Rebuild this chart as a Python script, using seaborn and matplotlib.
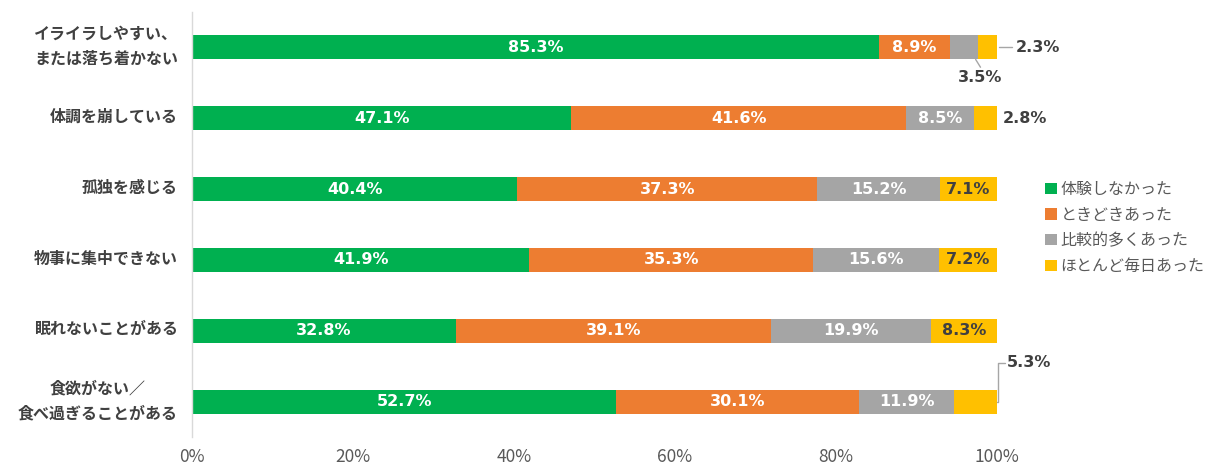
import matplotlib
matplotlib.use("Agg")
import matplotlib.pyplot as plt
import matplotlib.transforms as mtransforms
import seaborn as sns
import pandas as pd
import numpy as np
from matplotlib.patches import Patch

categories = ["イライラしやすい、\nまたは落ち着かない", "体調を崩している", "孤独を感じる",
              "物事に集中できない", "眠れないことがある", "食欲がない／\n食べ過ぎることがある"]
series_names = ["体験しなかった", "ときどきあった", "比較的多くあった", "ほとんど毎日あった"]
never = [85.3, 47.1, 40.4, 41.9, 32.8, 52.7]
sometimes = [8.9, 41.6, 37.3, 35.3, 39.1, 30.1]
often = [3.5, 8.5, 15.2, 15.6, 19.9, 11.9]
daily = [2.3, 2.8, 7.1, 7.2, 8.3, 5.3]
xticks = [0, 20, 40, 60, 80, 100]
xticklabels = ["0%", "20%", "40%", "60%", "80%", "100%"]

colors = ["#00B050", "#ED7D31", "#A5A5A5", "#FFC000"]
label_colors = ["white", "white", "white", "#404040"]

sns.set_theme(style="white")
plt.rcParams['font.family'] = ['Noto Sans CJK JP', 'DejaVu Sans']

series = [never, sometimes, often, daily]
cum = np.cumsum(np.array(series), axis=0)
cum[-1] = np.minimum(cum[-1], 100.0)

fig = plt.figure(figsize=(12.08, 4.69), dpi=100)
ax = fig.add_axes([192/1208, 1-437/469, (997-192)/1208, (437-12)/469])

# draw back to front (cumulative totals)
for i in range(3, -1, -1):
    df = pd.DataFrame({"cat": categories, "val": cum[i]})
    sns.barplot(data=df, x="val", y="cat", orient="h", color=colors[i],
                saturation=1, width=0.34, ax=ax, edgecolor="none", linewidth=0)

# labels inside segments
for i in range(4):
    start = cum[i-1] if i > 0 else np.zeros(len(categories))
    for j, v in enumerate(series[i]):
        if v >= 7:
            ax.text(start[j] + v/2, j, f"{v:.1f}%", ha="center", va="center",
                    color=label_colors[i], fontsize=11.5, fontweight="bold",
                    family="DejaVu Sans")

ext_kw = dict(color="#404040", fontsize=11.5, fontweight="bold", family="DejaVu Sans",
              clip_on=False)
line_kw = dict(color="#A6A6A6", lw=1, clip_on=False)
# row 0: 2.3% right, 3.5% below
ax.plot([100.3, 101.9], [0, 0], **line_kw)
ax.text(102.3, 0, f"{daily[0]:.1f}%", ha="left", va="center", **ext_kw)
gx = cum[1][0] + often[0] * 0.9
ax.plot([gx, gx + 0.6], [0.17, 0.28], **line_kw)
ax.text(gx + 0.6, 0.43, f"{often[0]:.1f}%", ha="center", va="center", **ext_kw)
# row 1: 2.8% right
ax.text(100.7, 1, f"{daily[1]:.1f}%", ha="left", va="center", **ext_kw)
# row 5: 5.3% above right with elbow leader
ax.plot([100.0, 100.1, 100.1, 101.0], [5, 5, 4.45, 4.45], **line_kw)
ax.text(101.2, 4.45, f"{daily[5]:.1f}%", ha="left", va="center", **ext_kw)

ax.set_xlim(0, 100)
ax.set_ylim(5.5, -0.5)
ax.set_xticks(xticks)
ax.set_xticklabels(xticklabels, fontsize=12.5, color="#595959")
ax.tick_params(axis="x", length=0, pad=8)
ax.tick_params(axis="y", length=0, pad=10)
ax.set_yticks(range(len(categories)))
ax.set_yticklabels(categories, fontsize=11.5, fontweight="bold", color="#404040",
                   linespacing=1.7)
for lab in ax.get_yticklabels():
    dy = 7 if "\n" in lab.get_text() else 3
    lab.set_multialignment("center")
    off = mtransforms.ScaledTranslation(0, dy/100, fig.dpi_scale_trans)
    lab.set_transform(lab.get_transform() + off)
ax.set_xlabel("")
ax.set_ylabel("")
for s in ["top", "right", "bottom"]:
    ax.spines[s].set_visible(False)
ax.spines["left"].set_color("#D9D9D9")
ax.spines["left"].set_linewidth(1)
ax.grid(False)

handles = [Patch(facecolor=c, edgecolor="none") for c in colors]
fig.legend(handles, series_names, loc="center left", bbox_to_anchor=(1039/1208, 1-228/469),
           frameon=False, fontsize=11.5, labelcolor="#595959", handlelength=0.7,
           handleheight=0.7, handletextpad=0.25, labelspacing=0.55, borderaxespad=0)

fig.savefig("out.png", dpi=100)
